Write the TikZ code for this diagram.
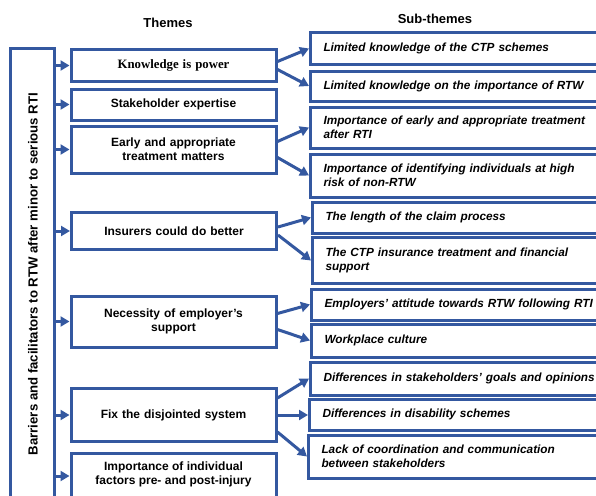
\documentclass[tikz,border=0pt]{standalone}
\usepackage{fontspec}
\setmainfont{Liberation Sans}
\newfontfamily\serifb{Liberation Serif}
\usetikzlibrary{arrows.meta,calc}
\definecolor{bblue}{RGB}{52,88,160}
\begin{document}
\begin{tikzpicture}[x=1pt,y=-1pt,
  box/.style={draw=bblue,line width=3pt,fill=white,inner sep=2pt},
  theme/.style={box,minimum width=205pt,text width=195pt,align=center,font=\fontsize{12}{14}\selectfont\bfseries},
  sub/.style={box,text width=280pt,inner xsep=13pt,align=left,anchor=west,font=\fontsize{11.8}{14}\selectfont\bfseries\itshape},
  arr/.style={draw=bblue,line width=3pt,-{Triangle[length=9pt,width=10pt]}},
  ttl/.style={font=\fontsize{13}{15}\selectfont\bfseries}]
\useasboundingbox (0,0) rectangle (596,495);
\clip (0,0) rectangle (596,495);
\fill[white] (0,0) rectangle (596,495);
% titles
\node[ttl] (tt) at (168,23) {Themes};
\node[ttl] (st) at (435,19) {Sub-themes};
% left box
\node[box,minimum width=44pt,minimum height=470pt] (main) at (32,284) {};
\node[rotate=90,font=\fontsize{13.2}{15}\selectfont\bfseries] (mt) at (33,274) {Barriers and facilitators to RTW after minor to serious RTI};
% themes
\node[theme,minimum height=31pt] (t1) at (173.5,65.5) {\serifb\fontsize{12.8}{14}\selectfont Knowledge is power};
\node[theme,minimum height=31pt] (t2) at (173.5,104.5) {Stakeholder expertise};
\node[theme,minimum height=47pt] (t3) at (173.5,149.5) {Early and appropriate\\treatment matters};
\node[theme,minimum height=37pt] (t4) at (174,231) {Insurers could do better};
\node[theme,minimum height=51pt] (t5) at (173.5,321.5) {Necessity of employer's\\support};
\node[theme,minimum height=53pt] (t6) at (173.5,415) {Fix the disjointed system};
\node[theme,minimum height=70pt] (t7) at (173.5,488) {};
\node[font=\fontsize{12}{14}\selectfont\bfseries,align=center] (t7t) at (173.5,474) {Importance of individual\\factors pre- and post-injury};
% sub-themes
\node[sub,minimum height=31pt] (s1) at (309,48.5) {Limited knowledge of the CTP schemes};
\node[sub,minimum height=30pt] (s2) at (309,86) {Limited knowledge on the importance of RTW};
\node[sub,minimum height=41pt] (s3) at (309,127.5) {Importance of early and appropriate treatment\\after RTI};
\node[sub,minimum height=43pt] (s4) at (309,175.5) {Importance of identifying individuals at high\\risk of non-RTW};
\node[sub,minimum height=31pt] (s5) at (311,217.5) {The length of the claim process};
\node[sub,minimum height=46pt] (s6) at (311,260.5) {The CTP insurance treatment and financial\\support};
\node[sub,minimum height=31pt] (s7) at (310,304.5) {Employers' attitude towards RTW following RTI};
\node[sub,minimum height=33pt] (s8) at (310,340.5) {Workplace culture};
\node[sub,minimum height=33pt] (s9) at (309,378.5) {Differences in stakeholders' goals and opinions};
\node[sub,minimum height=31pt] (s10) at (308,414.5) {Differences in disability schemes};
\node[sub,minimum height=43pt] (s11) at (307,456.5) {Lack of coordination and communication\\between stakeholders};
% arrows from main box
\foreach \t/\y in {t1/65.5,t2/104.5,t3/149.5,t4/231,t5/321.5,t6/415,t7/476}
  \draw[arr] (main.east |- 0,\y) -- (\t.west |- 0,\y);
% arrows to sub-themes
\draw[arr] ($(t1.east)+(0,-4)$) -- (s1.west);
\draw[arr] ($(t1.east)+(0,4)$) -- (s2.west);
\draw[arr] ($(t3.east)+(0,-8)$) -- (s3.west);
\draw[arr] ($(t3.east)+(0,8)$) -- (s4.west);
\draw[arr] ($(t4.east)+(0,-4)$) -- (s5.west);
\draw[arr] ($(t4.east)+(0,4)$) -- (s6.west);
\draw[arr] ($(t5.east)+(0,-8)$) -- (s7.west);
\draw[arr] ($(t5.east)+(0,8)$) -- (s8.west);
\draw[arr] ($(t6.east)+(0,-17)$) -- (s9.west);
\draw[arr] (t6.east) -- (s10.west |- t6.east);
\draw[arr] ($(t6.east)+(0,17)$) -- (s11.west);
\end{tikzpicture}
\end{document}
